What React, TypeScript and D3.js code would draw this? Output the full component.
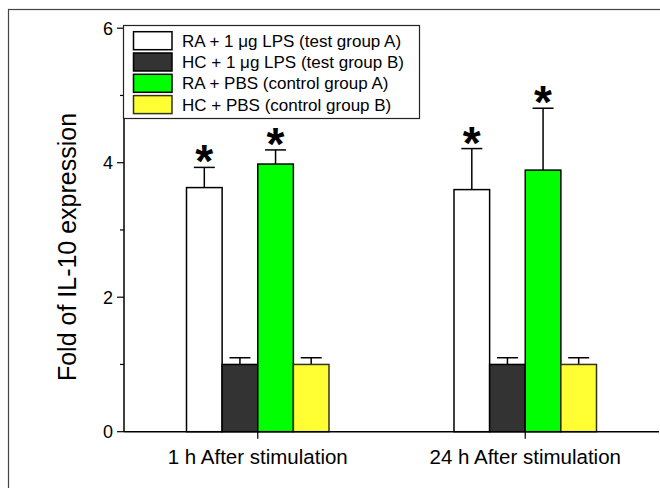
import React from "react";
import * as d3 from "d3";

const categories = ["1 h After stimulation", "24 h After stimulation"];
const series = [
  "RA + 1 \u03bcg LPS (test group A)",
  "HC + 1 \u03bcg LPS (test group B)",
  "RA + PBS (control group A)",
  "HC + PBS (control group B)",
];
const colors = ["#ffffff", "#333333", "#00ff00", "#ffff33"];
const strokes = ["#000000", "#000000", "#000000", "#333322"];
// values[series][category]
const values = [
  [3.63, 3.6],
  [1.0, 1.0],
  [3.98, 3.89],
  [1.0, 1.0],
];
const errors = [
  [0.3, 0.61],
  [0.1, 0.1],
  [0.21, 0.92],
  [0.1, 0.1],
];
const significant = [
  [true, true],
  [false, false],
  [true, true],
  [false, false],
];
const majorTicks = [0, 2, 4, 6];
const minorTicks = [1, 3, 5];

export default function App() {
  const W = 660;
  const H = 488;
  const x = d3.scaleBand<string>().domain(categories).range([124, 659]).padding(0);
  const groupW = 142.5;
  const xs = d3.scaleBand<string>().domain(series).range([-groupW / 2, groupW / 2]).padding(0);
  const y = d3.scaleLinear().domain([0, 6]).range([431.7, 28.2]);
  const font = "'Liberation Sans', Arial, Helvetica, sans-serif";

  return (
    <svg width={W} height={H} style={{ position: "absolute", left: 0, top: 0 }} fontFamily={font}>
      <rect x={0} y={0} width={W} height={H} fill="#fff" />
      <rect x={8.5} y={9.5} width={800} height={800} fill="none" stroke="#444" strokeWidth={1.2} />

      {/* bars */}
      {series.map((s, si) =>
        categories.map((c, ci) => {
          const cx = (x(c) as number) + x.bandwidth() / 2;
          const bx = cx + (xs(s) as number);
          const bw = xs.bandwidth();
          const v = values[si][ci];
          const e = errors[si][ci];
          const mid = bx + bw / 2;
          const yTop = y(v + e);
          return (
            <g key={s + c}>
              <line x1={mid} x2={mid} y1={y(v)} y2={yTop} stroke="#000" strokeWidth={1.5} />
              <line x1={mid - 10.5} x2={mid + 10.5} y1={yTop} y2={yTop} stroke="#000" strokeWidth={1.5} />
              <rect x={bx} y={y(v)} width={bw} height={y(0) - y(v)} fill={colors[si]} stroke={strokes[si]} strokeWidth={1.5} />
              {significant[si][ci] && (
                <text x={mid} y={yTop + 10} textAnchor="middle" fontSize={46} fontWeight="bold" fill="#000">
                  *
                </text>
              )}
            </g>
          );
        })
      )}

      {/* x axis */}
      <line x1={124} x2={659} y1={y(0)} y2={y(0)} stroke="#000" strokeWidth={1.5} />
      {categories.map((c) => {
        const cx = (x(c) as number) + x.bandwidth() / 2;
        return (
          <g key={c}>
            <line x1={cx} x2={cx} y1={y(0)} y2={y(0) + 7} stroke="#000" strokeWidth={1.2} />
            <text x={cx} y={463.5} textAnchor="middle" fontSize={20.5} fill="#000">
              {c}
            </text>
          </g>
        );
      })}

      {/* y axis */}
      <line x1={124} x2={124} y1={y(0)} y2={y(6)} stroke="#000" strokeWidth={1.5} />
      {majorTicks.map((t) => (
        <g key={t}>
          <line x1={117} x2={124} y1={y(t)} y2={y(t)} stroke="#000" strokeWidth={1.2} />
          <text x={113} y={y(t) + 6.3} textAnchor="end" fontSize={18} fill="#000">
            {t}
          </text>
        </g>
      ))}
      {minorTicks.map((t) => (
        <line key={t} x1={120} x2={124} y1={y(t)} y2={y(t)} stroke="#000" strokeWidth={1.2} />
      ))}
      <text
        transform={`translate(75.5,247) rotate(-90)`}
        textAnchor="middle"
        fontSize={25}
        fill="#000"
      >
        Fold of IL-10 expression
      </text>

      {/* legend */}
      <rect x={123.5} y={25.5} width={296} height={93} fill="#fff" stroke="#222" strokeWidth={1.2} />
      {series.map((s, i) => {
        const ry = 31.7 + i * 21.3;
        return (
          <g key={s}>
            <rect x={133.5} y={ry} width={38.5} height={18} fill={colors[i]} stroke={strokes[i]} strokeWidth={1.5} />
            <text x={182} y={ry + 15} fontSize={17} fill="#000">
              {s}
            </text>
          </g>
        );
      })}
    </svg>
  );
}
